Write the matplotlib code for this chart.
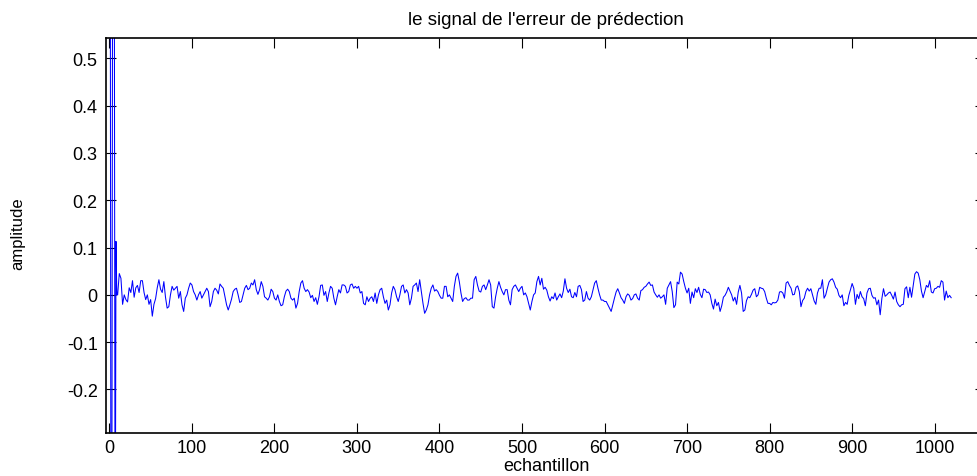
import numpy as np
import matplotlib
matplotlib.use("Agg")
import matplotlib.pyplot as plt

# ---- data ----
title_text = "le signal de l'erreur de prédection"
xlabel_text = "echantillon"
ylabel_text = "amplitude"

# first samples (one per sample, s = 0..9) – large start-up transients
err_head = [0.9, 0.9, -0.8, -0.5, 0.9, 0.8, 0.7, -0.7, 0.113, 0.0]

# remaining prediction error, samples 10, 12, ..., 1020 (in units of 0.01)
err_body_c = [
    0, 4.5, 3.5, -2.0, 0, -1.0, -1.5, 1.5, 0.5, 3.0,
    -0.5, 1.5, 2.0, 0.5, 3.0, 3.0, 0.5, -1.0, 0, -2.0,
    -1.0, -4.5, -2.0, -0.8, 1.5, 3.2, 1.2, 0.5, 2.8, -0.5,
    -2.8, -2.5, 0, 1.8, 1.0, 1.4, 1.8, -0.7, 0.7, -2.1,
    -3.5, -0.7, 0, 1.4, 2.5, 2.1, 0.7, 0, -1.1, 0,
    0.7, -0.7, 0, 0.7, 1.4, 0.7, -2.5, -1.4, 0.7, 1.4,
    1.0, 0.2, 2.3, 1.8, 1.4, -0.4, -2.1, -3.2, -2.1, -0.9,
    0.7, 1.2, 1.4, 0, -1.6, -1.4, 0, 1.4, 2.0, 1.1,
    1.4, 2.5, 2.1, 3.2, 1.1, 0.1, 1.1, 2.8, 1.8, -0.4,
    -0.7, -1.1, -0.4, 1.2, 0.7, -0.7, -1.1, 0, -1.4, -2.3,
    -2.1, -0.4, 0.8, 1.2, 0.7, -0.7, -1.1, -0.7, -2.8, -1.8,
    0.7, 2.5, 3.0, 1.4, 0.7, 1.1, 0.6, -0.6, -0.1, -1.4,
    -0.6, -2.0, -0.4, 2.0, 2.1, -0.1,
    0.7, -1.4, 0.4, 1.8, 1.4, -0.7, -2.1, -0.4, 1.1, 0.4,
    2.1, 2.1, 1.8, 0.4, 0.7, 2.1, 2.3, 1.4, 1.8, 1.4,
    1.8, 0.4, 0.7, -1.8, -2.1, -0.4, -1.4, -0.7, -0.4, -1.4,
    0.4, -1.8, 0, 1.1, 1.4, -0.4, -1.8, -1.1, -3.2, -2.1,
    0.4, 1.8, 1.1, -0.4, -1.4, 0, 1.8, 2.1, 0.4, 1.1,
    0.4, -2.1, -0.7, 1.8, 2.1, 2.5, 0.7, 3.2, 0.7, -1.8,
    -3.9, -3.2, -2.1, 0, 1.4, 2.1,
    0.8, 1.1, 0.7, -0.1, -0.7, -0.7, 1.8, 1.8, -0.4, 0,
    -0.7, -1.4, 1.8, 3.9, 4.6, 2.8, 0.4, -1.4, -0.8, -0.6,
    -1.1, -1.1, -0.7, -0.7, 3.2, 3.9, 2.1, 0.8, 0.6, 1.8,
    2.1, 1.1, 2.1, 3.2, 2.1, -2.5, -2.8, -0.4, 1.4, 2.8,
    1.6, 0.7, 0, 1.1, 1.1, -1.1, -2.1, 1.1, 1.8, 2.1,
    1.4, 0.7, 1.4, 1.8, 0, 0.4, -0.4, -1.8, -3.2, -1.4,
    0, 0.4, 2.8, 3.9, 2.1, 3.5,
    1.2, 1.6, 1.0, -0.4, -1.3, -0.4, -0.8, 0.4, -1.1, -0.4,
    0.2, -0.6, 0.8, 3.4, 1.4, 0.5, 1.2, -0.4, -0.6, 0.5,
    -0.4, 1.8, 2.0, 1.1, -1.4, -1.1, 0.7, -0.7, -1.1, -0.4,
    1.1, 2.5, 3.0, 1.4, 0, -1.1, -1.1, -1.4, -1.4, -2.1,
    -2.8, -3.5, -2.1, -0.7, 0.6, 1.3, 0.4, -0.6, -1.1, -1.8,
    -0.4, 0.2, -0.1, -1.1, -0.8, 0, 0.2, -0.7, -1.1, 0.9,
    1.1, 1.6, 1.8, 2.3, 2.7, 2.0,
    2.1, 0.6, 0, -0.5, 0, -0.7, -0.4, 0, -2.0, 1.4,
    2.1, 2.8, 0.7, -2.7, -2.1, 2.7, 2.3, 4.8, 4.4, 2.8,
    1.4, 0.4, 1.4, -1.8, 0.6, -0.6, 1.3, 0.5, 1.6, 0.1,
    -0.6, 1.2, 1.1, 0.5, 0.6, 0, -1.8, -3.0, -0.9, -2.3,
    -1.6, -3.5, -2.3, -0.5, -0.1, 0.6, 1.6, 0.8, 0, -1.3,
    -0.5, -2.0, 0.6, 2.0, 0.4, -3.5, -3.2, -1.2, -0.4, -0.6,
    0.1, 1.0, 1.3, -0.4, 0, 1.6,
    1.4, 1.3, 0.7, -0.7, -1.8, -1.8, -2.1, -1.6, -1.7, -1.6,
    -1.1, 0.6, 0.7, 0.4, -0.7, 2.5, 2.8, 2.0, 1.4, 0,
    0.1, 1.6, 1.9, 0.7, -2.5, -1.2, -0.7, 0.7, 1.4, 0.8,
    1.3, 0, -1.3, -2.0, 0.4, 1.4, 1.4, 3.2, -0.7, 0,
    1.4, 2.7, 3.2, 3.4, 2.7, 1.6, 1.2, -0.1, -0.6, 0,
    -2.3, -1.6, -2.0, -0.1, 1.1, 2.4, 1.4, -2.0, 0.1, -0.8,
    0.7, -0.4, -0.8, -2.3, 0.4, 1.3,
    1.4, -0.1, -0.7, -0.6, -2.1, -1.1, -4.2, -0.8, 1.3, -0.3,
    0, 0.4, 0.6, -0.1, -0.9, 0.6, -1.4, -2.1, -2.5, -2.1,
    -2.0, 1.3, 1.7, -0.6, 1.6, -0.5, 2.0, 4.4, 4.9, 4.6,
    3.2, 0.8, -0.6, 0.7, 2.0, 1.6, 3.0, 0.6, 0.4, 1.3,
    1.4, 1.8, 1.6, 3.0, 2.7, -1.1, 0.8, -0.6, -0.1, -0.6,
]

xticks = [0, 100, 200, 300, 400, 500, 600, 700, 800, 900, 1000]
yticks = [-0.2, -0.1, 0, 0.1, 0.2, 0.3, 0.4, 0.5]
ytick_labels = ["-0.2", "-0.1", "0", "0.1", "0.2", "0.3", "0.4", "0.5"]

# ---- build series ----
x_head = np.arange(len(err_head))
x_body = 10 + 2 * np.arange(len(err_body_c))
x = np.concatenate([x_head, x_body])
y = np.concatenate([np.array(err_head), np.array(err_body_c) / 100.0])

# ---- figure ----
plt.rcParams['font.family'] = ['Liberation Sans', 'DejaVu Sans']
fig = plt.figure(figsize=(9.78, 4.77), dpi=100)
W, H = 978.0, 477.0
ax_left, ax_right, ax_top, ax_bottom = 106, 985, 39, 434
ax = fig.add_axes([ax_left / W, 1 - ax_bottom / H,
                   (ax_right - ax_left) / W, (ax_bottom - ax_top) / H])

ax.plot(x, y, color=(0, 0, 1), lw=0.75)
ax.set_xlim(-4.1, 1061)
ax.set_ylim(-0.292, 0.543)

ax.set_xticks(xticks)
ax.set_xticklabels([str(t) for t in xticks])
ax.set_yticks(yticks)
ax.set_yticklabels(ytick_labels)
ax.tick_params(direction='in', length=7, width=0.8, top=True, right=True,
               labelsize=13, colors='black')
ax.tick_params(axis='x', pad=4)
ax.tick_params(axis='y', pad=6)
for sp in ax.spines.values():
    sp.set_linewidth(1.2)

ax.set_title(title_text, fontsize=13.5, pad=10)
fig.text(546 / W, 1 - 467 / H, xlabel_text, ha='center', va='center', fontsize=13)
fig.text(18 / W, 1 - 234 / H, ylabel_text, ha='center', va='center', fontsize=12,
         rotation=90)

fig.savefig("out.png", dpi=100)
